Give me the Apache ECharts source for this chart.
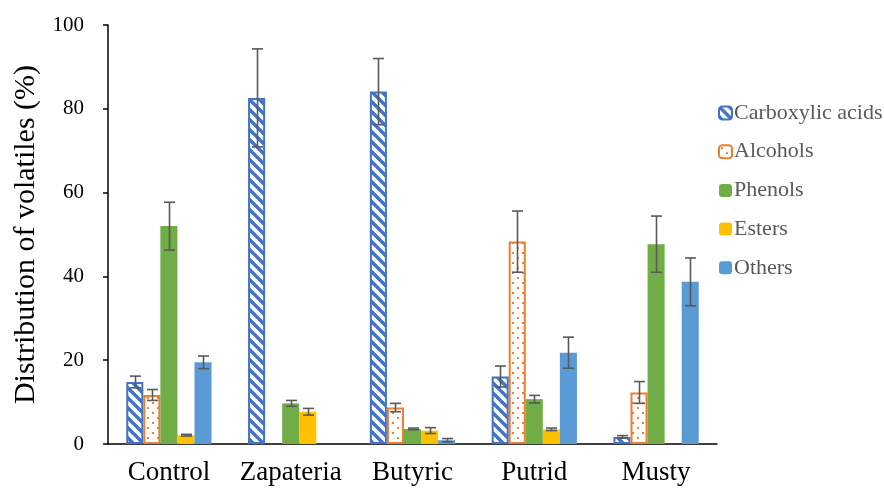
<!DOCTYPE html>
<html>
<head>
<meta charset="utf-8">
<script src="https://cdn.jsdelivr.net/npm/echarts@6/dist/echarts.min.js"></script>
<style>html,body{margin:0;padding:0;background:#fff}#c{width:884px;height:489px}</style>
</head>
<body>
<div id="c"></div>
<script>
const categories = ['Control', 'Zapateria', 'Butyric', 'Putrid', 'Musty'];
const seriesNames = ['Carboxylic acids', 'Alcohols', 'Phenols', 'Esters', 'Others'];
const carboxylic = [14.8, 82.6, 84.1, 16.1, 1.7];
const carboxylicErr = [1.4, 11.7, 7.9, 2.5, 0.3];
const alcohols = [11.7, 0, 8.7, 48.3, 12.3];
const alcoholsErr = [1.3, 0, 1.0, 7.3, 2.6];
const phenols = [52.0, 9.7, 3.6, 10.7, 47.7];
const phenolsErr = [5.7, 0.7, 0.2, 0.9, 6.7];
const esters = [2.1, 7.7, 3.2, 3.5, 0];
const estersErr = [0.2, 0.8, 0.7, 0.3, 0];
const others = [19.5, 0, 0.9, 21.8, 38.7];
const othersErr = [1.5, 0, 0.4, 3.7, 5.7];
const yTicks = [0, 20, 40, 60, 80, 100];

const values = [carboxylic, alcohols, phenols, esters, others];
const errors = [carboxylicErr, alcoholsErr, phenolsErr, estersErr, othersErr];

function stripePattern() {
  const s = 10;
  const c = document.createElement('canvas');
  c.width = s; c.height = s;
  const g = c.getContext('2d');
  g.fillStyle = '#fff'; g.fillRect(0, 0, s, s);
  g.strokeStyle = '#4472C4'; g.lineWidth = 3.4;
  g.beginPath();
  g.moveTo(-3, -3); g.lineTo(s + 3, s + 3);
  g.moveTo(-s - 3, -3); g.lineTo(3, s + 3);
  g.moveTo(s - 3, -3); g.lineTo(2 * s + 3, s + 3);
  g.stroke();
  return c;
}
function dotPattern() {
  const c = document.createElement('canvas');
  c.width = 10; c.height = 10;
  const g = c.getContext('2d');
  g.fillStyle = '#fff'; g.fillRect(0, 0, 10, 10);
  g.fillStyle = '#ED7D31';
  g.fillRect(2, 2, 2, 2);
  g.fillRect(7, 7, 2, 2);
  return c;
}

const styles = [
  { color: { image: stripePattern(), repeat: 'repeat' }, borderColor: '#4472C4', borderWidth: 2 },
  { color: { image: dotPattern(), repeat: 'repeat' }, borderColor: '#ED7D31', borderWidth: 2 },
  { color: '#70AD47' },
  { color: '#FFC000' },
  { color: '#5B9BD5' }
];

const BW = 0.14;
const series = [];
seriesNames.forEach((n, i) => {
  series.push({
    name: n, type: 'bar', data: values[i].map(v => (v === 0 ? '-' : v)),
    barWidth: (BW * 100) + '%', barGap: '0%',
    itemStyle: styles[i], emphasis: { disabled: true }
  });
});
seriesNames.forEach((n, i) => {
  series.push({
    type: 'custom', name: n + ' err', z: 10,
    data: values[i].map((v, k) => [k, v, errors[i][k]]),
    renderItem: function (params, api) {
      const e = api.value(2);
      if (!e) return null;
      const k = api.value(0), v = api.value(1);
      const band = api.size([1, 0])[0];
      const off = (i - 2) * band * BW;
      const hi = api.coord([k, v + e]);
      const lo = api.coord([k, v - e]);
      const x = Math.round(hi[0] + off) + 0.5;
      const cap = 5.5;
      const st = { stroke: '#595959', lineWidth: 1.6 };
      return {
        type: 'group', children: [
          { type: 'line', shape: { x1: x, y1: hi[1], x2: x, y2: lo[1] }, style: st },
          { type: 'line', shape: { x1: x - cap, y1: hi[1], x2: x + cap, y2: hi[1] }, style: st },
          { type: 'line', shape: { x1: x - cap, y1: lo[1], x2: x + cap, y2: lo[1] }, style: st }
        ]
      };
    }
  });
});

const chart = echarts.init(document.getElementById('c'), null, { renderer: 'canvas' });
chart.setOption({
  animation: false,
  backgroundColor: '#fff',
  textStyle: { fontFamily: 'Liberation Serif' },
  grid: { left: 108, right: 167, top: 25, bottom: 45 },
  legend: {
    data: seriesNames, orient: 'vertical', left: 713, top: 97,
    itemWidth: 13, itemHeight: 13, itemGap: 16.7,
    textStyle: { color: '#595959', fontSize: 22, fontFamily: 'Liberation Serif', padding: [0, 0, 0, -3] },
    selectedMode: false
  },
  xAxis: {
    type: 'category', data: categories,
    axisLine: { lineStyle: { color: '#000', width: 1.5 } },
    axisTick: { length: 8, lineStyle: { color: '#000', width: 1.5 } },
    axisLabel: { color: '#000', fontSize: 27, fontFamily: 'Liberation Serif', margin: 15, interval: 0 }
  },
  yAxis: {
    type: 'value', min: yTicks[0], max: yTicks[yTicks.length - 1], interval: 20,
    name: 'Distribution of volatiles (%)', nameLocation: 'middle', nameGap: 64,
    nameTextStyle: { color: '#000', fontSize: 30, fontFamily: 'Liberation Serif' },
    axisLine: { show: true, lineStyle: { color: '#000', width: 1.5 } },
    axisTick: { show: true, length: 5, lineStyle: { color: '#000', width: 1.5 } },
    axisLabel: { color: '#000', fontSize: 21, fontFamily: 'Liberation Serif', margin: 24 },
    splitLine: { show: false }
  },
  series: series
});
</script>
</body>
</html>
